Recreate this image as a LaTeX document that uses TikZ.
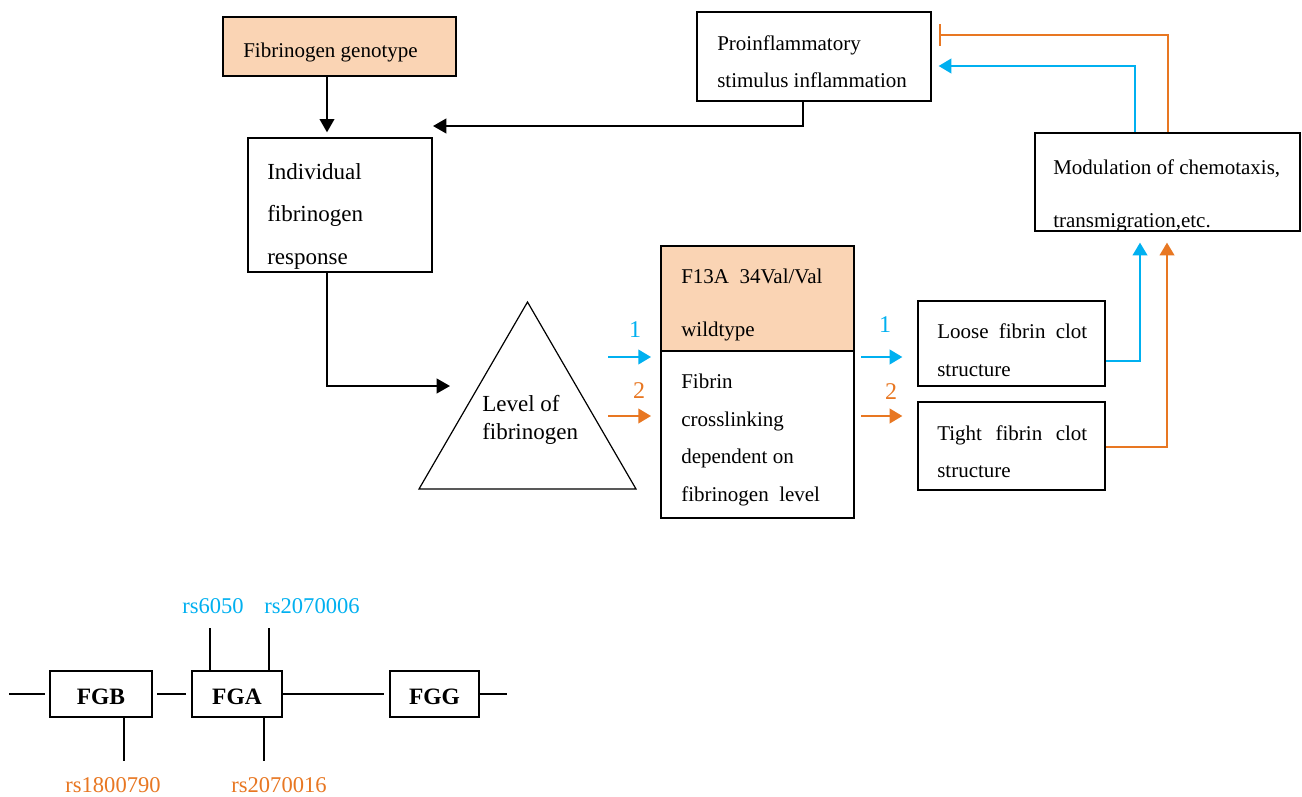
\documentclass[tikz,border=0pt]{standalone}
\usepackage{fontspec}
\setmainfont{Liberation Serif}
\usetikzlibrary{arrows.meta,fit}
\definecolor{cblue}{RGB}{0,176,240}
\definecolor{corange}{RGB}{232,119,34}
\definecolor{peach}{RGB}{250,212,180}
\begin{document}
\begin{tikzpicture}[x=0.75pt,y=-0.75pt,
  box/.style={draw=black, line width=1.5pt, inner sep=0pt},
  txt/.style={anchor=base west, inner sep=0pt, font=\fontsize{15.75}{18}\selectfont},
  bigtxt/.style={anchor=base west, inner sep=0pt, font=\fontsize{17.25}{20}\selectfont},
  num/.style={anchor=base, inner sep=0pt, font=\fontsize{18}{20}\selectfont},
  rs/.style={anchor=base, inner sep=0pt, font=\fontsize{16.9}{20}\selectfont},
  gene/.style={anchor=base, inner sep=0pt, font=\bfseries\fontsize{17.6}{20}\selectfont},
  karr/.style={line width=1.5pt, -{Triangle[length=10pt,width=11pt]}},
  barr/.style={draw=cblue, line width=1.3pt, -{Triangle[length=9.5pt,width=11pt]}},
  oarr/.style={draw=corange, line width=1.3pt, -{Triangle[length=9.5pt,width=11pt]}},
  oline/.style={draw=corange, line width=1.3pt},
  gline/.style={line width=1.5pt},
]
\useasboundingbox (0,0) rectangle (1302,796);
\fill[white] (0,0) rectangle (1302,796);

% ---- upper flow chart: boxes ----
\node[box, fill=peach, fit={(223,17) (456,76)}] (geno) {};
\node[box, fit={(248,138) (432,272)}] (indiv) {};
\node[box, fit={(697,12) (931,101)}] (proinf) {};
\node[box, fit={(1035,133) (1300,231)}] (modul) {};
\node[box, fill=peach, fit={(661,246) (854,351)}] (f13top) {};
\node[box, fit={(661,351) (854,518)}] (f13bot) {};
\node[box, fit={(918,301) (1105,386)}] (loose) {};
\node[box, fit={(918,402) (1105,490)}] (tight) {};

% triangle: level of fibrinogen
\coordinate (triTop) at (527.5,302);
\coordinate (triL) at (419,489);
\coordinate (triR) at (636,489);
\draw[line width=0.9pt] (triTop) -- (triL) -- (triR) -- cycle;

% ---- texts ----
\node[txt] (genoT) at (243,57) {Fibrinogen genotype};

\node[bigtxt] (indivA) at (267,179) {Individual};
\node[bigtxt] (indivB) at (267,221) {fibrinogen};
\node[bigtxt] (indivC) at (267,264) {response};

\node[txt] (proA) at (717,50) {Proinflammatory};
\node[txt] (proB) at (717,87) {stimulus inflammation};

\node[txt] (modA) at (1053,174) {Modulation of chemotaxis,};
\node[txt] (modB) at (1053,227) {transmigration,etc.};

\node[txt] (f13A) at (681,283) {F13A\ \ 34Val/Val};
\node[txt] (f13B) at (681,336) {wildtype};

\node[txt] (fibA) at (681,388) {Fibrin};
\node[txt] (fibB) at (681,426) {crosslinking};
\node[txt] (fibC) at (681,463) {dependent on};
\node[txt] (fibD) at (681,501) {fibrinogen\ \ level};

\node[bigtxt] (lvlA) at (482,411) {Level of};
\node[bigtxt] (lvlB) at (482,439) {fibrinogen};

\node[txt] (looseA) at (937,338) {\makebox[112.5pt][s]{Loose fibrin clot}};
\node[txt] (looseB) at (937,376) {structure};
\node[txt] (tightA) at (937,440) {\makebox[112.5pt][s]{Tight fibrin clot}};
\node[txt] (tightB) at (937,477) {structure};

\node[num, text=cblue] (n1a) at (635,337) {1};
\node[num, text=corange] (n2a) at (639,398) {2};
\node[num, text=cblue] (n1b) at (885,332) {1};
\node[num, text=corange] (n2b) at (891,399) {2};

% ---- connectors ----
\draw[karr, shorten >=3.5pt] (327,0 |- geno.south) -- (327,0 |- indiv.north);
\coordinate (inflIn) at (433,126);
\draw[karr] (803,0 |- proinf.south) |- (inflIn);
\coordinate (lvlIn) at (450,386);
\draw[karr] (327,0 |- indiv.south) |- (lvlIn);

\coordinate (b1s) at (608,357);
\coordinate (o2s) at (608,416);
\draw[barr, shorten >=6.75pt] (b1s) -- (f13bot.west |- b1s);
\draw[oarr, shorten >=6.75pt] (o2s) -- (f13bot.west |- o2s);

\draw[barr, shorten <=4.5pt, shorten >=11pt] (f13bot.east |- 0,357) -- (loose.west |- 0,357);
\draw[oarr, shorten <=4.5pt, shorten >=11pt] (f13bot.east |- 0,416) -- (tight.west |- 0,416);

\draw[barr, shorten >=8pt] (loose.east |- 0,361) -| (1140,0 |- modul.south);
\draw[oarr, shorten >=8pt] (tight.east |- 0,447) -| (1167,0 |- modul.south);

\draw[barr, shorten >=5pt] (1135,0 |- modul.north) |- (proinf.east |- 0,66);

% inhibition line ending in a flat bar beside the inflammation box
\coordinate (inhib) at (940,35);
\draw[oline] (1168,0 |- modul.north) |- (inhib);
\draw[oline] (inhib) ++(0,-11) -- ++(0,22);

% ---- gene map ----
\node[box, fit={(50,671) (152,717)}] (fgb) {};
\node[box, fit={(192,671) (282,717)}] (fga) {};
\node[box, fit={(390,671) (479,717)}] (fgg) {};
\node[gene] (fgbT) at (fgb.center |- 0,704) {FGB};
\node[gene] (fgaT) at (fga.center |- 0,704) {FGA};
\node[gene] (fggT) at (fgg.center |- 0,704) {FGG};

\coordinate (gL) at (9,694);
\coordinate (gR) at (507,694);
\draw[gline, shorten >=3pt] (gL) -- (fgb.west);
\draw[gline, shorten <=3pt, shorten >=3.5pt] (fgb.east) -- (fga.west);
\draw[gline, shorten >=3.5pt] (fga.east) -- (fgg.west);
\draw[gline] (fgg.east) -- (gR);

\coordinate (t1) at (210,628);
\coordinate (t2) at (269,628);
\coordinate (t3) at (124,761);
\coordinate (t4) at (264,761);
\draw[gline] (t1 |- fga.north) -- (t1);
\draw[gline] (t2 |- fga.north) -- (t2);
\draw[gline] (t3 |- fgb.south) -- (t3);
\draw[gline] (t4 |- fga.south) -- (t4);

\node[rs, text=cblue] (rsA) at (213,613) {rs6050};
\node[rs, text=cblue] (rsB) at (312,613) {rs2070006};
\node[rs, text=corange] (rsC) at (113,792) {rs1800790};
\node[rs, text=corange] (rsD) at (279,792) {rs2070016};
\end{tikzpicture}
\end{document}
